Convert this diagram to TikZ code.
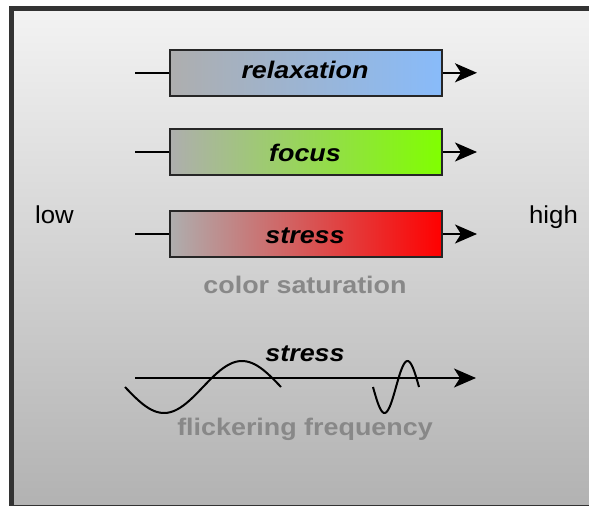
\documentclass[tikz,border=0pt]{standalone}
\usepackage{fontspec}
\setmainfont{Liberation Sans}
\newfontfamily\widebold[FakeStretch=1.12]{Liberation Sans}
\newfontfamily\wideregular[FakeStretch=1.05]{Liberation Sans}
\usetikzlibrary{arrows.meta}
\definecolor{framec}{HTML}{333333}
\definecolor{bgtop}{HTML}{F3F3F3}
\definecolor{bgbot}{HTML}{B2B2B2}
\definecolor{boxgray}{HTML}{AEAEAE}
\definecolor{relaxc}{HTML}{88BBFA}
\definecolor{focusc}{HTML}{80FF00}
\definecolor{stressc}{HTML}{FF0000}
\definecolor{captc}{HTML}{888888}
\tikzset{
  barbox/.style={draw=black!85, line width=2pt, minimum width=272pt, minimum height=45.5pt, inner sep=0pt, shading angle=90},
  boxlabel/.style={font=\widebold\fontsize{24}{28}\selectfont\bfseries\itshape, anchor=base, inner sep=0pt},
  caption/.style={font=\widebold\fontsize{24}{28}\selectfont\bfseries, text=captc, anchor=base, inner sep=0pt},
  side/.style={font=\wideregular\fontsize{24.5}{28}\selectfont, anchor=base, inner sep=0pt},
  conn/.style={line width=2pt, black},
  arr/.style={conn, -{Stealth[length=22pt,width=19pt,inset=6pt]}},
  wave/.style={line width=2pt, black, smooth}
}
\begin{document}
\begin{tikzpicture}[x=1pt,y=-1pt]
\useasboundingbox (0,0) rectangle (589,506);
\clip (0,0) rectangle (589,506);
\fill[white] (0,0) rectangle (589,506);
\shade[top color=bgtop, bottom color=bgbot] (11.5,8.5) rectangle (600,507);
\draw[framec, line width=4.5pt] (11.5,8.5) rectangle (600,507);

% colour bars
\node[barbox, left color=boxgray, right color=relaxc] (b1) at (306,72.8) {};
\node[barbox, left color=boxgray, right color=focusc] (b2) at (306,152) {};
\node[barbox, left color=boxgray, right color=stressc] (b3) at (306,234) {};
\node[boxlabel] (t1) at (305,78.3) {relaxation};
\node[boxlabel] (t2) at (305,161.5) {focus};
\node[boxlabel] (t3) at (305,243.3) {stress};

\coordinate (s1) at (135,72.8);
\coordinate (s2) at (135,152);
\coordinate (s3) at (135,234);
\coordinate (e1) at (477,72.8);
\coordinate (e2) at (477,152);
\coordinate (e3) at (477,234);
\draw[conn] (s1) -- (b1.west);
\draw[conn] (s2) -- (b2.west);
\draw[conn] (s3) -- (b3.west);
\draw[arr] (b1.east) -- (e1);
\draw[arr] (b2.east) -- (e2);
\draw[arr] (b3.east) -- (e3);

\node[side] (low) at (54.5,223) {low};
\node[side] (high) at (553.5,223) {high};
\node[caption] (cs) at (305,293.3) {color saturation};

% flickering
\node[boxlabel] (t4) at (305,361) {stress};
\coordinate (a0) at (135,378);
\coordinate (a1) at (476,378);
\draw[arr] (a0) -- (a1);
\draw[wave] plot[domain=125:281, samples=60] ({\x},{387+26*sin((\x-125)/156*360)});
\draw[wave] plot[domain=373:419, samples=40] ({\x},{387+26*sin((\x-373)/46*360)});
\node[caption] (ff) at (305,435) {flickering frequency};
\end{tikzpicture}
\end{document}
